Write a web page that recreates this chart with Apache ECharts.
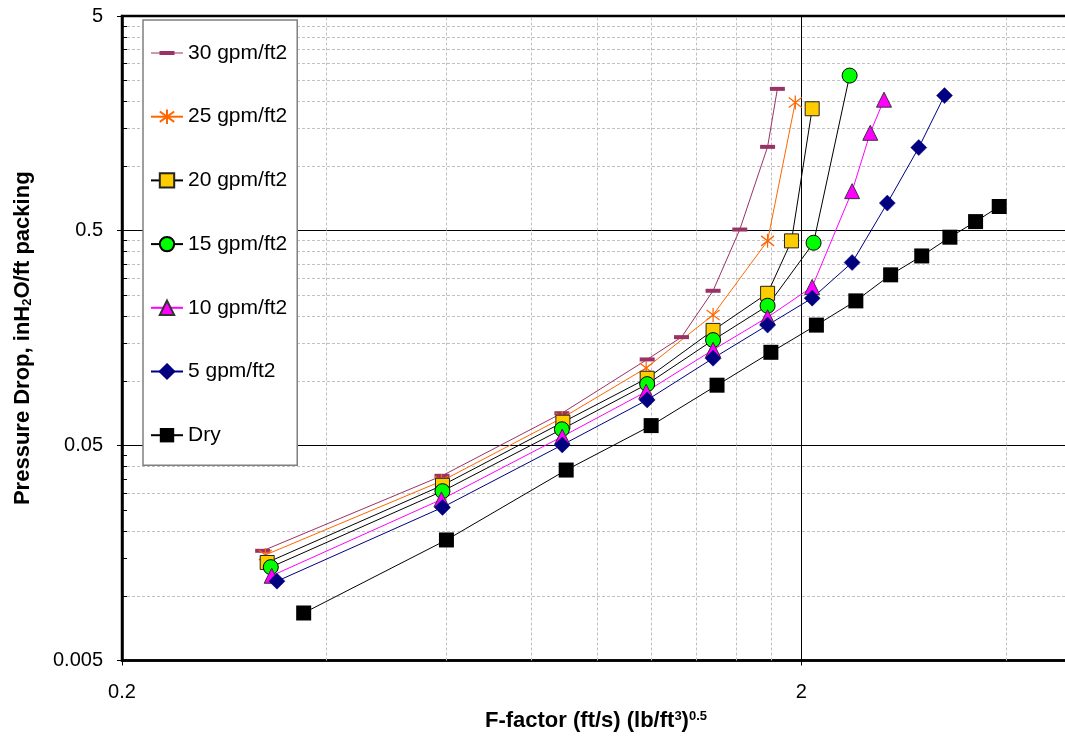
<!DOCTYPE html>
<html><head><meta charset="utf-8">
<script src="https://cdn.jsdelivr.net/npm/echarts@6/dist/echarts.min.js"></script>
<style>html,body{margin:0;padding:0;background:#fff}#c{width:1065px;height:742px}</style>
</head><body><div id="c"></div>
<script>
// ---- data ----
const seriesNames = ['30 gpm/ft2','25 gpm/ft2','20 gpm/ft2','15 gpm/ft2','10 gpm/ft2','5 gpm/ft2','Dry'];
const x30 = [0.322, 0.591, 0.887, 1.184, 1.33, 1.48, 1.62, 1.78, 1.84];
const y30 = [0.0162, 0.0362, 0.0708, 0.126, 0.160, 0.263, 0.507, 1.23, 2.29];
const x25 = [0.325, 0.59, 0.888, 1.18, 1.48, 1.78, 1.955];
const y25 = [0.0155, 0.0342, 0.0673, 0.115, 0.203, 0.449, 1.98];
const x20 = [0.327, 0.592, 0.89, 1.184, 1.48, 1.78, 1.93, 2.07];
const y20 = [0.0143, 0.0327, 0.0643, 0.103, 0.172, 0.256, 0.449, 1.85];
const x15 = [0.331, 0.592, 0.887, 1.184, 1.48, 1.78, 2.08, 2.35];
const y15 = [0.0136, 0.0307, 0.0596, 0.0967, 0.155, 0.224, 0.440, 2.64];
const x10 = [0.332, 0.59, 0.888, 1.18, 1.48, 1.78, 2.07, 2.37, 2.52, 2.64];
const y10 = [0.0124, 0.0281, 0.0551, 0.0892, 0.1396, 0.198, 0.274, 0.765, 1.43, 2.04];
const x5 = [0.338, 0.592, 0.888, 1.184, 1.48, 1.78, 2.07, 2.37, 2.67, 2.97, 3.24];
const y5 = [0.0117, 0.0258, 0.0504, 0.0816, 0.1276, 0.182, 0.243, 0.356, 0.673, 1.22, 2.13];
const xDry = [0.37, 0.6, 0.9, 1.2, 1.5, 1.8, 2.1, 2.4, 2.7, 3.0, 3.3, 3.6, 3.9];
const yDry = [0.00832, 0.0182, 0.0385, 0.062, 0.0956, 0.136, 0.182, 0.236, 0.312, 0.382, 0.467, 0.552, 0.649];

const xMin = 0.2, xMax = 20, yMin = 0.005, yMax = 5;
const xDecades = [0.2, 2];
const yDecades = [0.005, 0.05, 0.5];
const minorMult = [2, 3, 4, 5, 6, 7, 8, 9];
const xTitle = '{t|F-factor (ft/s) (lb/ft}{s|3}{t|)}{s|0.5}';
const yTitle = '{t|Pressure Drop, inH}{s|2}{t|O/ft packing}';

// ---- build ----
const zip = (xs, ys) => xs.map((x, i) => [x, ys[i]]);
const r3 = v => parseFloat(Number(v).toPrecision(3));
const r1 = v => String(parseFloat(Number(v).toPrecision(1)));
const xMinor = [].concat(...xDecades.map(d => minorMult.map(k => r3(d * k))));
const yMinor = [].concat(...yDecades.map(d => minorMult.map(k => r3(d * k))));
const tickInX = xMin * Math.pow(10, 5 / 680); // minor tick length inside the left axis

const FONT = 'Liberation Sans';
const starPath = 'path://M6,0 L6,14 M0,2 L12,12 M0,12 L12,2';
const dashLegendIcon = 'path://M0,0 L0.01,0 L0,0.01 Z M32,18 L31.99,18 L32,17.99 Z M0,8.5 L32,8.5 L32,9.5 L0,9.5 Z M8.5,7 L23.5,7 L23.5,11 L8.5,11 Z';
const titleRich = {
  t: { fontSize: 22, fontWeight: 'bold', fontFamily: FONT, color: '#000' },
  s: { fontSize: 13, fontWeight: 'bold', fontFamily: FONT, color: '#000', verticalAlign: 'top' }
};

function mk(name, xs, ys, opts) {
  return Object.assign({
    name, type: 'line', data: zip(xs, ys), symbolSize: 14,
    lineStyle: { width: 1, color: opts.line },
    itemStyle: { color: opts.fill, borderColor: opts.border || opts.fill, borderWidth: opts.bw || 0 },
    emphasis: { disabled: true }
  }, opts.extra || {});
}

const series = [
  {
    type: 'line', data: [], z: 1, silent: true, symbol: 'none',
    markLine: {
      z: 1, silent: true, symbol: 'none', animation: false, label: { show: false },
      lineStyle: { color: '#c0c0c0', type: [3, 2], width: 1 },
      data: yMinor.map(v => ({ yAxis: v })).concat(xMinor.map(v => ({ xAxis: v })))
    }
  },
  {
    type: 'line', data: [], z: 1, silent: true, symbol: 'none',
    markLine: {
      z: 1, silent: true, symbol: 'none', animation: false, label: { show: false },
      lineStyle: { color: '#000', type: 'solid', width: 1 },
      data: yMinor.map(v => [{ coord: [xMin, v] }, { coord: [tickInX, v] }])
    }
  },
  mk(seriesNames[0], x30, y30, { line: '#993366', fill: '#993366', extra: { symbol: 'rect', symbolSize: [15, 4] } }),
  mk(seriesNames[1], x25, y25, { line: '#FF6600', fill: 'none', border: '#FF6600', bw: 1.3, extra: { symbol: starPath, symbolSize: [13, 14] } }),
  mk(seriesNames[2], x20, y20, { line: '#000000', fill: '#FFCC00', border: '#222', bw: 1, extra: { symbol: 'rect', symbolSize: 14 } }),
  mk(seriesNames[3], x15, y15, { line: '#000000', fill: '#00FF00', border: '#000', bw: 1, extra: { symbol: 'circle', symbolSize: 15 } }),
  mk(seriesNames[4], x10, y10, { line: '#FF00FF', fill: '#FF00FF', border: '#333', bw: 1, extra: { symbol: 'triangle', symbolSize: 15 } }),
  mk(seriesNames[5], x5, y5, { line: '#000080', fill: '#000080', border: '#000080', bw: 0.5, extra: { symbol: 'diamond', symbolSize: 16 } }),
  mk(seriesNames[6], xDry, yDry, { line: '#000000', fill: '#000000', border: '#000000', bw: 0, extra: { symbol: 'rect', symbolSize: 15 } })
];

const legendData = seriesNames.map((n, i) => i === 0
  ? { name: n, icon: dashLegendIcon, itemStyle: { color: '#993366', borderWidth: 0 } }
  : { name: n });

const chart = echarts.init(document.getElementById('c'), null, { renderer: 'canvas' });
chart.setOption({
  animation: false,
  textStyle: { fontFamily: FONT, color: '#000' },
  title: {
    text: xTitle, left: 596, top: 721, padding: 0,
    textAlign: 'center', textVerticalAlign: 'middle',
    textStyle: { rich: titleRich }
  },
  grid: { left: 122, top: 16, width: 1360, height: 644.5, outerBoundsMode: 'none', containLabel: false,
          show: true, borderColor: '#000', borderWidth: 2.5, backgroundColor: '#fff' },
  legend: {
    data: legendData, orient: 'vertical', left: 143, top: 20,
    padding: [22, 10, 19, 7], itemGap: 41.7, itemWidth: 32, itemHeight: 18,
    backgroundColor: '#fff', borderColor: '#808080', borderWidth: 1.5,
    textStyle: { fontSize: 21, color: '#000', fontFamily: FONT, lineHeight: 22 },
    selectedMode: false
  },
  xAxis: {
    type: 'log', logBase: 10, min: xMin, max: xMax, interval: 1,
    axisLine: { show: true, lineStyle: { color: '#000', width: 2.5 } },
    axisTick: { show: true, inside: false, length: 5, lineStyle: { color: '#000', width: 1 } },
    axisLabel: { fontSize: 20, color: '#000', margin: 22, formatter: r1 },
    splitLine: { show: true, lineStyle: { color: '#000', width: 1 } }
  },
  yAxis: {
    type: 'log', logBase: 10, min: yMin, max: yMax, interval: 1,
    axisLine: { show: true, lineStyle: { color: '#000', width: 2.5 } },
    axisTick: { show: true, inside: false, length: 5, lineStyle: { color: '#000', width: 1 } },
    axisLabel: { fontSize: 20, color: '#000', margin: 19, formatter: r1 },
    splitLine: { show: true, lineStyle: { color: '#000', width: 1 } },
    name: yTitle,
    nameLocation: 'middle', nameGap: 88, nameRotate: 90,
    nameTextStyle: { rich: {
      t: { fontSize: 22, fontWeight: 'bold', fontFamily: FONT, color: '#000' },
      s: { fontSize: 13, fontWeight: 'bold', fontFamily: FONT, color: '#000', verticalAlign: 'bottom' }
    } }
  },
  series
});
</script>
</body></html>
